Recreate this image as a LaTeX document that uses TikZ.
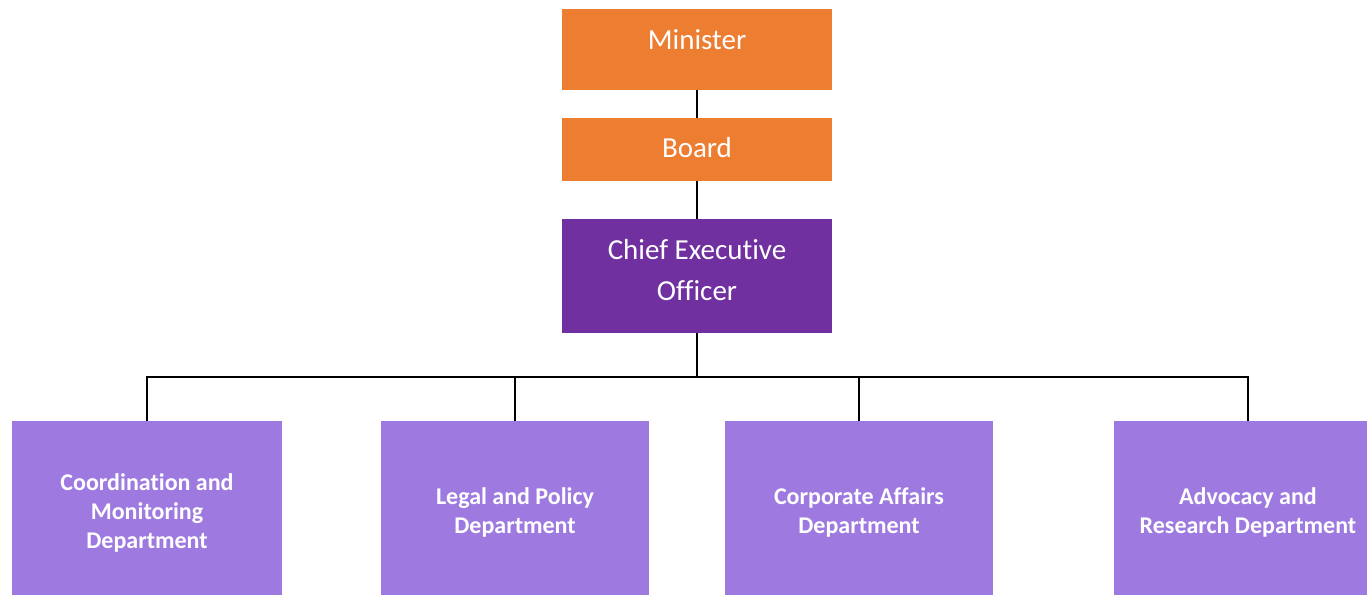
\documentclass[tikz,border=0pt]{standalone}
\usepackage{fontspec}
\setmainfont{Carlito}[Ligatures=NoCommon]

\definecolor{headorange}{HTML}{ED7D31}
\definecolor{ceopurple}{HTML}{7030A0}
\definecolor{deptlilac}{HTML}{9E7AE0}

\newcommand*\postwidth{135pt}
\newcommand*\deptheight{91.5pt}
\tikzset{post/.style 2 args={
    rectangle,
    fill=#1,
    text=white,
    inner sep=0pt,
    outer sep=0pt,
    anchor=north west,
    minimum width=\postwidth,
    minimum height=#2,
    font=\fontsize{14.5}{20.5}\selectfont,
    align=center
}}
\tikzset{dept/.style={
    rectangle,
    fill=deptlilac,
    text=white,
    inner sep=0pt,
    outer sep=0pt,
    anchor=north west,
    minimum width=#1,
    minimum height=\deptheight,
    font=\bfseries\fontsize{12}{14.5}\selectfont,
    align=center
}}
\tikzset{link/.style={draw, line width=1.2pt}}

\begin{document}
\begin{tikzpicture}[x=0.5pt,y=-0.5pt]

    \useasboundingbox (0,0) rectangle (1367,595);

    % The top of the chart.
    \node[post={headorange}{40.5pt}, text height=9.5pt, text depth=9.5pt] (minister) at (562,9) {Minister};
    \node[post={headorange}{31.5pt}, text depth=2pt] (board) at (562,118) {Board};
    \node[post={ceopurple}{57pt}, text depth=6.5pt] (ceo) at (562,219) {Chief Executive\\Officer};

    % The departments (the boxes run on past the bottom edge).
    \foreach \name/\x/\w/\txt in {
        coord/12/135pt/{Coordination and\\Monitoring\\Department},
        legal/381/134pt/{Legal and Policy\\Department},
        corp/725/134pt/{Corporate Affairs\\Department},
        advoc/1114/134pt/{Advocacy and\\Research Department}}
        \node[dept=\w] (\name) at (\x,421) {\txt};

    % Draw the lines.
    \coordinate (bus) at (ceo.south |- 0,377);
    \draw[link] (minister) -- (board);
    \draw[link] (board) -- (ceo);
    \draw[link] (ceo.south) -- (bus);
    \foreach \name in {coord,legal,corp,advoc}
        \draw[link] (\name.north) |- (bus);

\end{tikzpicture}
\end{document}
